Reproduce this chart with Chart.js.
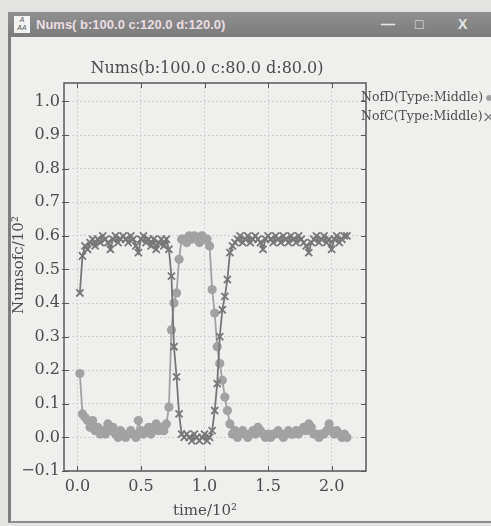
<!DOCTYPE html>
<html>
<head>
<meta charset="utf-8">
<title>Nums</title>
<script src="https://cdn.jsdelivr.net/npm/chart.js@4.4.1/dist/chart.umd.min.js"></script>
<style>
body{margin:0;width:491px;height:526px;background:#e3e3e1;position:relative;overflow:hidden;font-family:"Liberation Sans",Arial,sans-serif;}
#win{position:absolute;left:8px;top:12px;width:483px;height:511px;background:#efefed;border-left:3px solid #7e7e7e;border-bottom:2px solid #8c8c8c;box-sizing:border-box;}
#bar{position:absolute;left:8px;top:12px;width:483px;height:25px;background:linear-gradient(#909090,#7b7b7b);}
#icon{position:absolute;left:6px;top:4px;width:16px;height:17px;background:#f4f4f4;color:#555;font-size:7px;line-height:8px;text-align:center;font-style:italic;}
#caption{position:absolute;left:28px;top:4px;color:#eadde3;font-size:13px;font-weight:bold;line-height:17px;white-space:nowrap;}
.btn{position:absolute;top:3px;color:#e6e6e6;font-weight:bold;font-size:14px;line-height:18px;}
#chart{position:absolute;left:0;top:0;z-index:2;}
</style>
</head>
<body>
<div id="win"></div>
<div id="bar">
  <div id="icon">A<br>AA</div>
  <div id="caption">Nums( b:100.0 c:120.0 d:120.0)</div>
  <div class="btn" style="left:373px">&#8212;</div>
  <div class="btn" style="left:407px">&#9633;</div>
  <div class="btn" style="left:450px">X</div>
</div>
<canvas id="chart" width="491" height="526"></canvas>

<script>
/* ---------- datos ---------- */

const chartTitle = "Nums(b:100.0 c:80.0 d:80.0)";
const xTitle = "time/10\u00B2";
const yTitle = "Numsofc/10\u00B2";

const labelD = "NofD(Type:Middle)";
const labelC = "NofC(Type:Middle)";

// time/10^2, one sample every 0.02 starting at 0.02
const timeStart = 0.02;
const timeStep = 0.02;

const nofD = [
0.19,0.07,0.06,0.05,0.03,0.05,0.02,0.03,0.01,0.02,
0.01,0.04,0.02,0.03,0.01,0.00,0.02,0.01,0.00,0.01,
0.02,0.01,0.00,0.05,0.02,0.01,0.02,0.03,0.01,0.03,
0.04,0.02,0.03,0.02,0.04,0.09,0.32,0.40,0.43,0.53,
0.59,0.59,0.58,0.60,0.59,0.60,0.59,0.58,0.60,0.59,
0.59,0.57,0.44,0.37,0.27,0.22,0.17,0.12,0.08,0.04,
0.01,0.02,0.00,0.01,0.02,0.01,0.00,0.01,0.02,0.01,
0.03,0.02,0.01,0.00,0.01,0.00,0.01,0.01,0.02,0.01,
0.00,0.01,0.02,0.01,0.01,0.02,0.01,0.02,0.03,0.02,
0.04,0.03,0.01,0.01,0.00,0.01,0.01,0.02,0.04,0.02,
0.01,0.02,0.01,0.00,0.01,0.00
];

const nofC = [
0.43,0.54,0.57,0.56,0.58,0.59,0.57,0.59,0.58,0.60,
0.59,0.58,0.56,0.59,0.60,0.58,0.59,0.60,0.59,0.58,
0.60,0.59,0.57,0.55,0.59,0.60,0.58,0.59,0.57,0.59,
0.56,0.58,0.59,0.57,0.59,0.56,0.48,0.27,0.18,0.07,
0.01,0.00,0.01,0.00,-0.01,0.01,0.00,-0.01,0.00,0.01,
-0.01,0.00,0.02,0.08,0.16,0.30,0.38,0.42,0.47,0.55,
0.57,0.58,0.59,0.60,0.58,0.59,0.60,0.58,0.59,0.60,
0.59,0.58,0.56,0.59,0.60,0.59,0.58,0.60,0.59,0.58,
0.60,0.59,0.58,0.60,0.59,0.58,0.60,0.59,0.58,0.57,
0.55,0.58,0.59,0.60,0.58,0.59,0.60,0.58,0.59,0.56,
0.59,0.60,0.58,0.59,0.60,0.60
];

const xTicksStep = 0.5;
const yTicksStep = 0.1;

const time = [];
for (let i = 0; i < nofD.length; i++) {
  time.push(+(timeStart + i * timeStep).toFixed(2));
}

function puntos(valores){
  return valores.map((v, i) => ({x: time[i], y: v}));
}

/* ---------- estilos ---------- */

const colorD = "#a2a2a2";
const colorC = "#777777";
const colorTexto = "#4c4c4c";
const fuenteSerif = "DejaVu Serif";

function formato(v){
  if (Math.abs(v) < 1e-9) v = 0;
  const s = v.toFixed(1);
  return v < 0 ? "\u2212" + s.slice(1) : s;
}

/* ---------- marco, ticks internos, titulos y leyenda ---------- */

const decoracion = {
  id: "decoracion",
  afterDraw(chart){
    const ctx = chart.ctx;
    const a = chart.chartArea;
    const sx = chart.scales.x;
    const sy = chart.scales.y;

    ctx.save();
    ctx.strokeStyle = "#555";
    ctx.lineWidth = 1;
    ctx.beginPath();
    sx.ticks.forEach(t => {
      const px = Math.round(sx.getPixelForValue(t.value)) + 0.5;
      ctx.moveTo(px, a.bottom); ctx.lineTo(px, a.bottom - 5);
      ctx.moveTo(px, a.top); ctx.lineTo(px, a.top + 5);
    });
    sy.ticks.forEach(t => {
      const py = Math.round(sy.getPixelForValue(t.value)) + 0.5;
      ctx.moveTo(a.left - 2, py); ctx.lineTo(a.left + 5, py);
      ctx.moveTo(a.right, py); ctx.lineTo(a.right - 5, py);
    });
    ctx.stroke();

    ctx.lineWidth = 1.5;
    ctx.strokeStyle = "#5a5a5a";
    ctx.strokeRect(a.left, a.top, a.right - a.left, a.bottom - a.top);

    // titulos
    const cx = (a.left + a.right) / 2;
    const cy = (a.top + a.bottom) / 2;
    ctx.fillStyle = colorTexto;
    ctx.textAlign = "center";
    ctx.textBaseline = "middle";
    ctx.font = "16px '" + fuenteSerif + "'";
    ctx.fillText(chartTitle, cx - 8, a.top - 14);
    ctx.font = "15px '" + fuenteSerif + "'";
    ctx.fillText(xTitle, cx - 10, a.bottom + 40);
    ctx.save();
    ctx.translate(a.left - 45, cy - 12);
    ctx.rotate(-Math.PI / 2);
    ctx.fillText(yTitle, 0, 0);
    ctx.restore();

    // leyenda
    ctx.font = "12.5px '" + fuenteSerif + "'";
    ctx.textAlign = "left";
    const lx = a.right - 5;
    chart.data.datasets.forEach((ds, i) => {
      const ly = a.top + 15 + i * 19;
      ctx.fillStyle = colorTexto;
      ctx.fillText(ds.label, lx, ly);
      const mx = lx + ctx.measureText(ds.label).width + 6;
      if (ds.pointStyle === "circle") {
        ctx.fillStyle = ds.backgroundColor;
        ctx.beginPath(); ctx.arc(mx, ly, 3, 0, Math.PI * 2); ctx.fill();
      } else {
        ctx.strokeStyle = ds.borderColor;
        ctx.lineWidth = 1.3;
        ctx.beginPath();
        ctx.moveTo(mx - 4, ly - 4); ctx.lineTo(mx + 4, ly + 4);
        ctx.moveTo(mx + 4, ly - 4); ctx.lineTo(mx - 4, ly + 4);
        ctx.stroke();
      }
    });
    ctx.restore();
  }
};

/* ---------- grafico ---------- */

new Chart(document.getElementById("chart"), {
  type: "line",
  data: {
    datasets: [
      {
        label: labelD,
        data: puntos(nofD),
        pointStyle: "circle",
        pointRadius: 4.6,
        pointBorderWidth: 0,
        backgroundColor: colorD,
        borderColor: colorD,
        borderWidth: 1.8,
        tension: 0,
        order: 1
      },
      {
        label: labelC,
        data: puntos(nofC),
        pointStyle: "crossRot",
        pointRadius: 5,
        pointBorderWidth: 1.8,
        backgroundColor: colorC,
        borderColor: colorC,
        borderWidth: 1.8,
        tension: 0,
        order: 0
      }
    ]
  },
  options: {
    responsive: false,
    animation: false,
    devicePixelRatio: 1,
    layout: { padding: { top: 83, right: 125, left: 0, bottom: 0 } },
    plugins: {
      legend: { display: false },
      title: { display: false },
      tooltip: { enabled: false }
    },
    scales: {
      x: {
        type: "linear",
        min: -0.105,
        max: 2.27,
        afterFit(s){ s.height = 55; },
        ticks: {
          stepSize: xTicksStep,
          includeBounds: false,
          padding: 6,
          maxRotation: 0,
          color: colorTexto,
          font: { family: fuenteSerif, size: 16 },
          callback: v => formato(v)
        },
        grid: { color: "#cfcfcf", drawTicks: false, lineWidth: 1 },
        border: { display: false, dash: [2, 2] }
      },
      y: {
        min: -0.1,
        max: 1.055,
        afterFit(s){ s.width = 64; },
        ticks: {
          stepSize: yTicksStep,
          includeBounds: false,
          padding: 4,
          color: colorTexto,
          font: { family: fuenteSerif, size: 16 },
          callback: v => formato(v)
        },
        grid: { color: "#cfcfcf", drawTicks: false, lineWidth: 1 },
        border: { display: false, dash: [2, 2] }
      }
    }
  },
  plugins: [decoracion]
});
</script>
</body>
</html>
